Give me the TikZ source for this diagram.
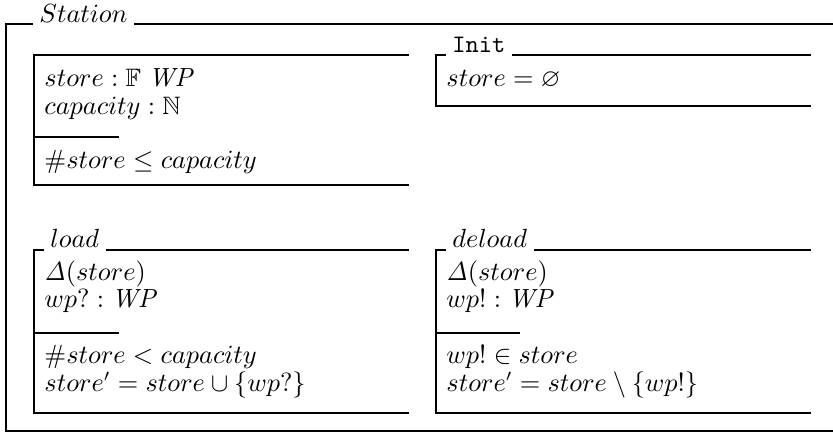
\documentclass[tikz,border=0pt]{standalone}
\usepackage{amsmath, amssymb}
\usepackage{tikz}
\usetikzlibrary{calc}

\begin{document}
\begin{tikzpicture}[x=0.4167pt, y=-0.4167pt,
  frame/.style={line width=0.8pt},
  schema/.style={line width=1.2pt},
  title/.style={anchor=base west, inner xsep=2.5pt, inner ysep=0pt, font=\fontsize{10.5}{12}\selectfont},
  txt/.style={anchor=base west, inner sep=0pt, font=\fontsize{10.5}{12}\selectfont},
]
\useasboundingbox (0,0) rectangle (833,433);

% Class frame
\node[title] (station) at (33,22) {$Station$};
\draw[frame] (station.west |- 0,24) -- (6,24) -- (6,431) -- (833,431);
\draw[frame] (station.east |- 0,24) -- (833,24);

% State schema
\draw[schema] (409,55) -- (34,55) -- (34,185) -- (409,185);
\draw[schema] (34,137) -- (119,137);
\node[txt] (decl1) at (44,86) {$store : \mathbb{F}\; \mathit{WP}$};
\node[txt] (decl2) at (44,114) {$capacity : \mathbb{N}$};
\node[txt] (inv) at (44,168) {$\#store \leq capacity$};

% Init schema
\node[title, font=\ttfamily\fontsize{10.5}{12}\selectfont] (init) at (446,52) {Init};
\draw[schema] (init.west |- 0,55) -- (436,55) -- (436,106) -- (811,106);
\draw[schema] (init.east |- 0,55) -- (811,55);
\node[txt] (initp) at (446,86) {$store = \varnothing$};

% load operation
\node[title] (load) at (44,247) {$load$};
\draw[schema] (load.west |- 0,250) -- (34,250) -- (34,413) -- (409,413);
\draw[schema] (load.east |- 0,250) -- (409,250);
\draw[schema] (34,333) -- (119,333);
\node[txt] (ld1) at (44,280) {$\mathit{\Delta}(store)$};
\node[txt] (ld2) at (44,307) {$wp? : \mathit{WP}$};
\node[txt] (ld3) at (44,363) {$\#store < capacity$};
\node[txt] (ld4) at (44,391) {$store' = store \cup \{wp?\}$};

% deload operation
\node[title] (deload) at (446,247) {$deload$};
\draw[schema] (deload.west |- 0,250) -- (436,250) -- (436,413) -- (811,413);
\draw[schema] (deload.east |- 0,250) -- (811,250);
\draw[schema] (436,333) -- (520,333);
\node[txt] (dl1) at (446,280) {$\mathit{\Delta}(store)$};
\node[txt] (dl2) at (446,307) {$wp! : \mathit{WP}$};
\node[txt] (dl3) at (446,363) {$wp! \in store$};
\node[txt] (dl4) at (446,391) {$store' = store \setminus \{wp!\}$};
\end{tikzpicture}
\end{document}
